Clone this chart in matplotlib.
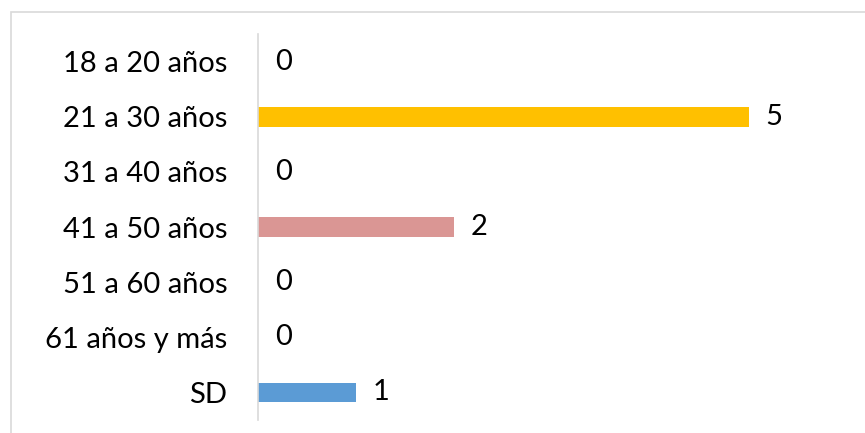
import matplotlib.pyplot as plt
from matplotlib.patches import Rectangle

categories = ['18 a 20 años', '21 a 30 años', '31 a 40 años', '41 a 50 años',
              '51 a 60 años', '61 años y más', 'SD']
values = [0, 5, 0, 2, 0, 0, 1]
colors = ['#FFC000', '#FFC000', '#FFC000', '#DA9694', '#DA9694', '#5B9BD5', '#5B9BD5']

plt.rcParams['font.family'] = ['Lato', 'DejaVu Sans']

W, H = 865, 433
fig = plt.figure(figsize=(W / 100, H / 100), dpi=100)

# outer chart border (only top/left visible in the crop)
fig.patches.append(Rectangle((11 / W, -0.1), 1.2, 1.1 - 12 / H, transform=fig.transFigure,
                             fill=False, edgecolor='#d9d9d9', linewidth=1.2))

ax = fig.add_axes([258 / W, 1 - 420 / H, 589 / W, 386 / H])
y = list(range(len(categories)))
ax.barh(y, values, height=0.36, color=colors)
ax.set_ylim(len(categories) - 0.5, -0.5)
ax.set_xlim(0, 6)

for yi, v in zip(y, values):
    ax.text(v + 0.17, yi, str(v), va='center', ha='left', fontsize=21, color='black')

ax.set_yticks(y)
ax.set_yticklabels(categories, fontsize=21)
ax.tick_params(axis='y', length=0, pad=22)
ax.set_xticks([])
for s in ['top', 'right', 'bottom']:
    ax.spines[s].set_visible(False)
ax.spines['left'].set_color('#d9d9d9')
ax.spines['left'].set_linewidth(1.2)
ax.patch.set_visible(False)

fig.savefig('out.png', dpi=100)
